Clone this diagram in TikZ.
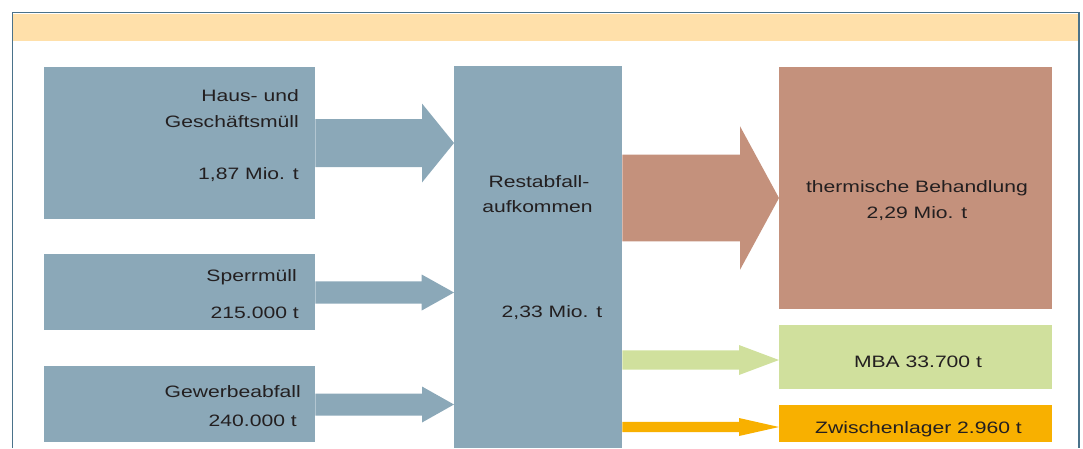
\documentclass[tikz,border=0pt]{standalone}
\usepackage{fontspec}
\setmainfont{Liberation Sans}[FakeStretch=1.28]
\usetikzlibrary{calc}

\definecolor{blu}{RGB}{139,168,184}
\definecolor{brn}{RGB}{196,145,124}
\definecolor{grn}{RGB}{208,224,157}
\definecolor{org}{RGB}{248,176,0}
\definecolor{band}{RGB}{255,224,170}
\definecolor{rim}{RGB}{74,114,138}
\definecolor{ink}{RGB}{35,31,32}

\tikzset{
	box/.style={fill=#1, anchor=north west, inner sep=0pt},
	lbl/.style={text=ink, font=\fontsize{16.5}{20}\selectfont, inner sep=0pt},
}

% #1 colour, #2 start, #3 tip (same height), #4 half shaft, #5 half head, #6 head length
\newcommand\fatarrow[6]{%
	\fill[#1] let \p1=(#2), \p2=(#3) in
		(\x1,{\y1+#4pt}) -- ({\x2-#6pt},{\y1+#4pt}) -- ({\x2-#6pt},{\y1+#5pt}) -- (\x2,\y1)
		-- ({\x2-#6pt},{\y1-#5pt}) -- ({\x2-#6pt},{\y1-#4pt}) -- (\x1,{\y1-#4pt}) -- cycle;}

\begin{document}
\begin{tikzpicture}[x=1pt,y=-1pt]
	\useasboundingbox (0,0) rectangle (1083,448);
	\fill[band] (13,13.5) rectangle (1078,41);
	\draw[rim, line width=1.8pt] (12.5,448) -- (12.5,12.5) -- (1079,12.5) -- (1079,448);

	\node[box=blu, minimum width=271pt, minimum height=152pt] (haus) at (44,67) {};
	\node[box=blu, minimum width=271pt, minimum height=76pt] (sperr) at (44,254) {};
	\node[box=blu, minimum width=271pt, minimum height=76pt] (gewerbe) at (44,366) {};
	\node[box=blu, minimum width=168pt, minimum height=382pt] (rest) at (454,66) {};
	\node[box=brn, minimum width=273pt, minimum height=242pt] (therm) at (779,67) {};
	\node[box=grn, minimum width=273pt, minimum height=64pt] (mba) at (779,325) {};
	\node[box=org, minimum width=273pt, minimum height=37pt] (zwl) at (779,405) {};

	\fatarrow{blu}{haus.east|-0,143}{rest.west|-0,143}{24}{39.5}{32}
	\fatarrow{blu}{sperr.east|-0,292.5}{rest.west|-0,292.5}{11.2}{18}{32.3}
	\fatarrow{blu}{gewerbe.east|-0,404.5}{rest.west|-0,404.5}{11}{18}{32}
	\fatarrow{brn}{rest.east|-0,198}{therm.west|-0,198}{43.3}{71.8}{39}
	\fatarrow{grn}{rest.east|-0,360}{mba.west|-0,360}{9.6}{15}{40}
	\fatarrow{org}{rest.east|-0,427}{zwl.west|-0,427}{5.2}{9}{40}

	\node[lbl, anchor=base east] (haus-a) at (299,101.7) {Haus- und};
	\node[lbl, anchor=base east] (haus-b) at (299,127.3) {Geschäftsmüll};
	\node[lbl, anchor=base east] (haus-c) at (299,179.3) {1,87 Mio. t};
	\node[lbl, anchor=base east] (sperr-a) at (297,281.7) {Sperrmüll};
	\node[lbl, anchor=base east] (sperr-b) at (299,318.3) {215.000 t};
	\node[lbl, anchor=base east] (gewerbe-a) at (301,397.3) {Gewerbeabfall};
	\node[lbl, anchor=base east] (gewerbe-b) at (297,426.7) {240.000 t};
	\node[lbl, anchor=base] (rest-a) at (539,187.3) {Restabfall-};
	\node[lbl, anchor=base] (rest-b) at (537.5,212.7) {aufkommen};
	\node[lbl, anchor=base] (rest-c) at (552,317.7) {2,33 Mio. t};
	\node[lbl, anchor=base] (therm-a) at (917,192.3) {thermische Behandlung};
	\node[lbl, anchor=base] (therm-b) at (917,218.3) {2,29 Mio. t};
	\node[lbl, anchor=base] (mba-a) at (918,367) {MBA 33.700 t};
	\node[lbl, anchor=base] (zwl-a) at (918.5,433.8) {Zwischenlager 2.960 t};
\end{tikzpicture}
\end{document}
